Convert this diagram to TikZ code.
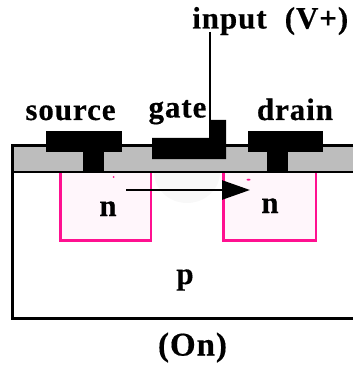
\documentclass[tikz,border=0pt]{standalone}
\usepackage{fontspec}
\setmainfont[BoldFeatures={FakeBold=0.4,LetterSpace=3}]{Liberation Serif}
\usetikzlibrary{arrows.meta}
\definecolor{oxide}{HTML}{BDBDBD}
\definecolor{pinkline}{HTML}{FF1090}
\definecolor{pinkfill}{HTML}{FFF6FB}
\definecolor{glow}{HTML}{F8F8F8}
\tikzset{
  lbl/.style={font=\fontsize{31}{31}\selectfont\bfseries, inner sep=0pt, text=black, anchor=base},
  wide/.style={font=\fontsize{33}{33}\selectfont\bfseries\addfontfeature{LetterSpace=8}},
  region/.style={draw=pinkline, fill=pinkfill, line width=2.5pt},
  metal/.style={fill=black, draw=none},
  outline/.style={draw=black, line width=3pt},
}
\begin{document}
\begin{tikzpicture}[x=1pt,y=-1pt]
\useasboundingbox (0,0) rectangle (353,366);
% oxide layer
\path[fill=oxide] (12,145) rectangle (353,172);
% n regions
\draw[region] (60.5,172) -- (60.5,240.5) -- (151,240.5) -- (151,172);
\draw[region] (223.5,172) -- (223.5,240.5) -- (316,240.5) -- (316,172);
% faint channel glow
\begin{scope}
\clip (153,173) rectangle (222,230);
\path[fill=glow] (187,172) ellipse [x radius=33, y radius=31];
\end{scope}
% outlines
\draw[outline] (353,145.5) -- (12.5,145.5) -- (12.5,318) -- (353,318);
\draw[black, line width=2.5pt] (12,172) -- (353,172);
% metal contacts
\path[metal] (46,131) rectangle (122,151.5);
\path[metal] (83,151) rectangle (104,171);
\path[metal] (248,131) rectangle (323,151.5);
\path[metal] (267,151) rectangle (288,171);
\path[metal] (152,138) -- (209,138) -- (209,120) -- (226,120) -- (226,159) -- (152,159) -- cycle;
% specks
\path[fill=pinkline] (113.5,177) circle (1);
\path[fill=pinkline] (248.5,179.7) ellipse [x radius=2, y radius=1];
% labels
\node[lbl] (input) at (229.5,28.5) {input};
\node[lbl] (vplus) at (316.5,28.5) {(V+)};
\node[lbl] (source) at (70.5,120) {source};
\node[lbl] (gate) at (177.5,117.5) {gate};
\node[lbl] (drain) at (295,120) {drain};
\node[lbl] (nleft) at (108,216) {n};
\node[lbl] (nright) at (270,213) {n};
\node[lbl] (p) at (185,284) {p};
\node[lbl,wide] (on) at (192.5,355.5) {(On)};
% wire and arrow
\coordinate (gatetop) at (210,120);
\coordinate (wiretop) at (210,32);
\draw[black, line width=2.2pt] (wiretop) -- (gatetop);
\coordinate (a) at (126,190);
\coordinate (b) at (250,190);
\draw[black, line width=2.5pt, -{Triangle[length=28pt,width=19pt]}] (a) -- (b);
\end{tikzpicture}
\end{document}
